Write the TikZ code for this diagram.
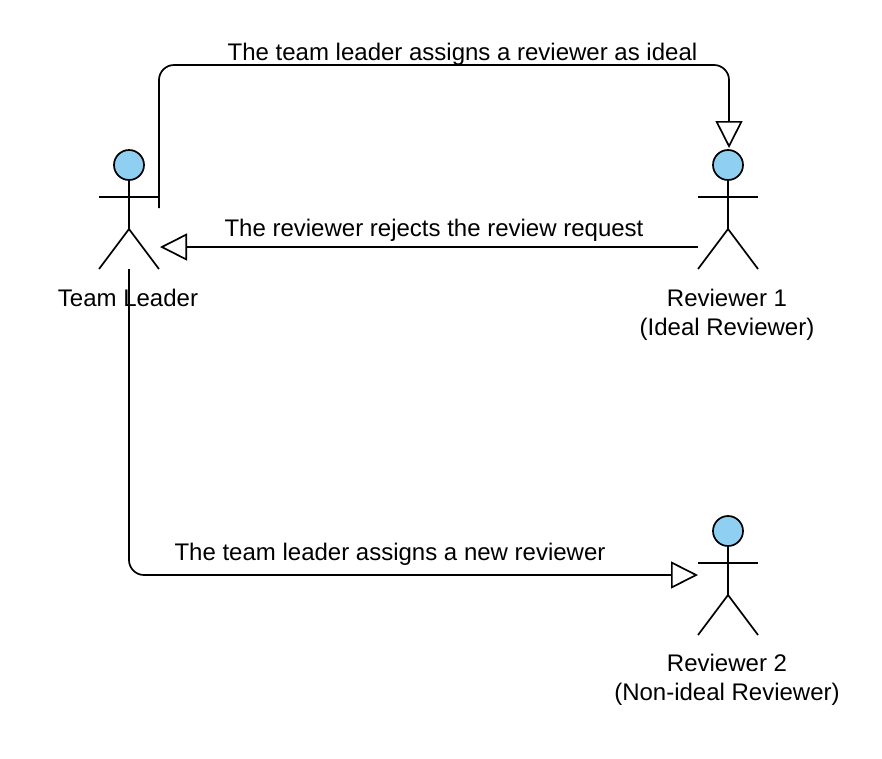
\documentclass[tikz,border=0pt]{standalone}
\usepackage{fontspec}
\setmainfont{Liberation Sans}
\usetikzlibrary{arrows.meta,positioning}
\definecolor{headblue}{HTML}{8ECFF2}
\tikzset {
  line/.style = {
    draw = black,
    line width = 1.7pt
  },
  % path style for the connectors
  arr/.style = {
    line,
    rounded corners = 15pt,
    -{Triangle[open,length=27pt,width=27pt]}
  },
  % text next to a connector
  msg/.style = {
    font = \fontsize{24pt}{28.5pt}\selectfont,
    inner sep = 0,
    anchor = base
  },
  % text under an actor
  actor label/.style = {
    font = \fontsize{24pt}{28.5pt}\selectfont,
    align = center,
    inner sep = 0,
    anchor = north
  },
  % stick figure, named by its prefix
  pics/actor/.style = {
    code = {
      \node[line, fill = headblue, circle, minimum size = 30pt, inner sep = 0] (head) {};
      \coordinate (neck) at (0,15);
      \coordinate (arm left) at (-30,32);
      \coordinate (arm right) at (30,32);
      \coordinate (hip) at (0,64);
      \coordinate (foot left) at (-30,104);
      \coordinate (foot right) at (30,104);
      \coordinate (foot mid) at (0,104);
      \coordinate (hand) at (-30,82);
      \draw[line] (head) -- (hip);
      \draw[line] (arm left) -- (arm right);
      \draw[line] (foot left) -- (hip) -- (foot right);
    }
  }
}
\begin{document}
\begin{tikzpicture}[x=1pt, y=-1pt]
    \useasboundingbox (0,0) rectangle (882,758);

    \pic (leader-) at (129,165) {actor};
    \pic (ideal-) at (728,165) {actor};
    \pic (other-) at (728,531) {actor};

    \node[actor label] (leader name) at (128,289) {Team Leader};
    \node[actor label] (ideal name) at (727,289) {Reviewer 1\\(Ideal Reviewer)};
    \node[actor label] (other name) at (727,654) {Reviewer 2\\(Non-ideal Reviewer)};

    % free ends of the connectors
    \coordinate (assign start) at (159,208);
    \coordinate (assign end) at (729,148);
    \coordinate (reject end) at (160,247);
    \coordinate (new end) at (698,575);

    \draw[arr] (assign start) |- (445,65) -| (assign end);
    \draw[arr] (ideal-hand) -- (reject end);
    \draw[arr] (leader-foot mid) |- (new end);

    \node[msg] (assign text) at (462.5,60) {The team leader assigns a reviewer as ideal};
    \node[msg] (reject text) at (434,236) {The reviewer rejects the review request};
    \node[msg] (new text) at (390,560) {The team leader assigns a new reviewer};
\end{tikzpicture}
\end{document}
